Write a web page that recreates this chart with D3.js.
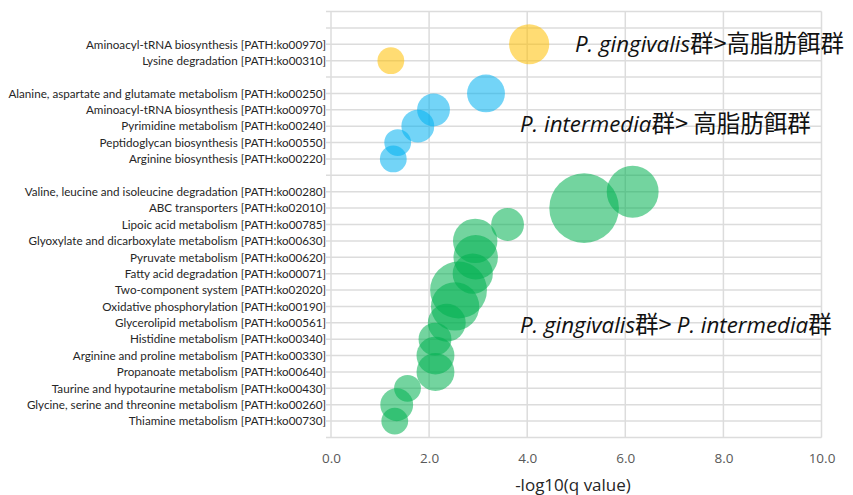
<!DOCTYPE html>
<html>
<head>
<meta charset="utf-8">
<script src="https://cdn.jsdelivr.net/npm/d3@7"></script>
<style>
  body { margin: 0; background: #fff; }
  svg { display: block; }
</style>
</head>
<body>
<div id="chart"></div>
<script>
// Données
const yellowPaths = [
    "Aminoacyl-tRNA biosynthesis [PATH:ko00970]",
    "Lysine degradation [PATH:ko00310]"
];
const yellowQ = [4.04, 1.22];
const yellowSize = [9, 4];

const bluePaths = [
    "Alanine, aspartate and glutamate metabolism [PATH:ko00250]",
    "Aminoacyl-tRNA biosynthesis [PATH:ko00970]",
    "Pyrimidine metabolism [PATH:ko00240]",
    "Peptidoglycan biosynthesis [PATH:ko00550]",
    "Arginine biosynthesis [PATH:ko00220]"
];
const blueQ = [3.16, 2.09, 1.77, 1.36, 1.27];
const blueSize = [8, 6, 6, 4, 4];

const greenPaths = [
    "Valine, leucine and isoleucine degradation [PATH:ko00280]",
    "ABC transporters [PATH:ko02010]",
    "Lipoic acid metabolism [PATH:ko00785]",
    "Glyoxylate and dicarboxylate metabolism [PATH:ko00630]",
    "Pyruvate metabolism [PATH:ko00620]",
    "Fatty acid degradation [PATH:ko00071]",
    "Two-component system [PATH:ko02020]",
    "Oxidative phosphorylation [PATH:ko00190]",
    "Glycerolipid metabolism [PATH:ko00561]",
    "Histidine metabolism [PATH:ko00340]",
    "Arginine and proline metabolism [PATH:ko00330]",
    "Propanoate metabolism [PATH:ko00640]",
    "Taurine and hypotaurine metabolism [PATH:ko00430]",
    "Glycine, serine and threonine metabolism [PATH:ko00260]",
    "Thiamine metabolism [PATH:ko00730]"
];
const greenQ = [6.15, 5.16, 3.60, 2.94, 2.95, 2.89, 2.60, 2.53, 2.36, 2.12, 2.13, 2.13, 1.56, 1.34, 1.30];
const greenSize = [15, 27, 6, 11, 11, 9, 18, 13, 8, 6, 8, 8, 4, 6, 4];

const xTicks = [0, 2, 4, 6, 8, 10];

// Lignes de l'axe Y (de haut en bas, avec les lignes vides entre groupes)
const rowLabels = ["", ...yellowPaths, "", ...bluePaths, "", ...greenPaths];

const series = [
    {paths: yellowPaths, q: yellowQ, size: yellowSize, color: "#FFC000", start: 1},
    {paths: bluePaths, q: blueQ, size: blueSize, color: "#00B0F0", start: 1 + yellowPaths.length + 1},
    {paths: greenPaths, q: greenQ, size: greenSize, color: "#00B050", start: 1 + yellowPaths.length + 1 + bluePaths.length + 1}
];

const annotations = [
    {x: 575, y: 52, parts: [["P. gingivalis", true], ["群>高脂肪餌群", false]]},
    {x: 520, y: 132, parts: [["P. intermedia", true], ["群> 高脂肪餌群", false]]},
    {x: 520, y: 333, parts: [["P. gingivalis", true], ["群> ", false], ["P. intermedia", true], ["群", false]]}
];

// Configuration
const W = 853, H = 495;
const margin = {top: 11.5, right: 31.5, bottom: 57.5, left: 331};
const width = W - margin.left - margin.right;
const height = H - margin.top - margin.bottom;
const nRows = rowLabels.length + 1; // 26

const svg = d3.select("#chart").append("svg")
    .attr("width", W)
    .attr("height", H);

const g = svg.append("g")
    .attr("transform", `translate(${margin.left},${margin.top})`);

const x = d3.scaleLinear().domain([0, 10]).range([0, width]);
const y = d3.scaleLinear().domain([0, nRows]).range([height, 0]);
const r = d3.scaleSqrt().domain([0, 27]).range([0, 34.8]);

const rowY = i => y(nRows - 1 - i);

// Grille horizontale
g.append("g").selectAll("line")
    .data(d3.range(0, nRows + 1))
    .enter().append("line")
    .attr("x1", -5).attr("x2", width)
    .attr("y1", d => y(d)).attr("y2", d => y(d))
    .attr("stroke", "#dcdcdc")
    .attr("stroke-width", 1.5);

// Grille verticale
g.append("g").selectAll("line")
    .data(xTicks)
    .enter().append("line")
    .attr("x1", d => x(d)).attr("x2", d => x(d))
    .attr("y1", 0).attr("y2", height)
    .attr("stroke", "#dcdcdc")
    .attr("stroke-width", 1.5);

// Axe X
const xAxis = g.append("g")
    .attr("transform", `translate(0,${height})`)
    .call(d3.axisBottom(x).tickValues(xTicks).tickFormat(d3.format(".1f")).tickSize(0).tickPadding(16));
xAxis.select(".domain").remove();
xAxis.selectAll("text")
    .attr("fill", "#595959")
    .style("font-family", "'Open Sans', sans-serif")
    .style("font-size", "13.5px");

// Axe Y (noms des voies)
const yAxis = g.append("g")
    .call(d3.axisLeft(y)
        .tickValues(d3.range(0, rowLabels.length).map(i => nRows - 1 - i))
        .tickFormat(v => rowLabels[nRows - 1 - v])
        .tickSize(0).tickPadding(5));
yAxis.select(".domain").remove();
const yLabels = yAxis.selectAll("text")
    .attr("fill", "#262626")
    .style("font-family", "Lato, sans-serif")
    .style("font-size", "10px");

// ajuster la taille pour que le plus long libellé fasse ~318px
const maxW = d3.max(yLabels.nodes(), n => n.getComputedTextLength());
yLabels.style("font-size", (10 * 318 / maxW) + "px");

// Titre de l'axe X
svg.append("text")
    .attr("x", 573)
    .attr("y", 491)
    .attr("text-anchor", "middle")
    .attr("fill", "#262626")
    .style("font-family", "'Open Sans', sans-serif")
    .style("font-size", "17px")
    .text("-log10(q value)");

// Bulles
series.forEach(s => {
    g.append("g").selectAll("circle")
        .data(s.q.map((q, i) => ({q: q, size: s.size[i], row: s.start + i})))
        .enter().append("circle")
        .attr("cx", d => x(d.q))
        .attr("cy", d => rowY(d.row))
        .attr("r", d => r(d.size))
        .attr("fill", s.color)
        .attr("fill-opacity", 0.55);
});

// Annotations
annotations.forEach(a => {
    const t = svg.append("text")
        .attr("x", a.x)
        .attr("y", a.y)
        .attr("fill", "#111");
    a.parts.forEach(p => {
        t.append("tspan")
            .style("font-family", p[1] ? "'Open Sans', sans-serif" : "'Noto Sans CJK JP', sans-serif")
            .style("font-style", p[1] ? "italic" : "normal")
            .style("font-size", p[1] ? "22.3px" : "23.5px")
            .text(p[0]);
    });
});
</script>
</body>
</html>
